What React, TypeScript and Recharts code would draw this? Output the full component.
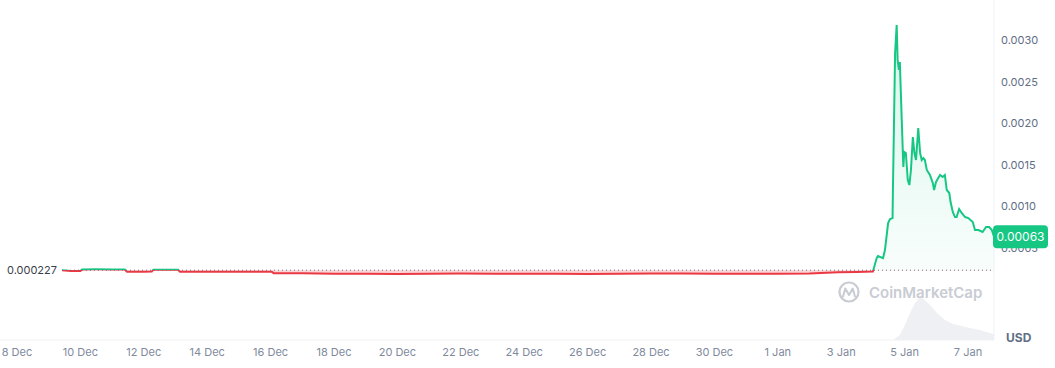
import React from 'react';
import {
  ComposedChart,
  Area,
  XAxis,
  YAxis,
  CartesianGrid,
  ReferenceLine,
  ReferenceDot,
} from 'recharts';

// Days counted from 8 Dec 00:00
const PRICE_DAYS = [
  1.42, 1.7, 2.0, 2.05, 2.5, 3.0, 3.4, 3.47, 4.0, 4.25, 4.3, 4.8, 5.08, 5.14, 6.0, 7.0, 8.04, 8.1,
  9.0, 10.0, 11.0, 12.0, 13.0, 14.0, 15.0, 16.0, 17.0, 18.0, 19.0, 20.0, 21.0, 22.0, 23.0, 24.0,
  25.0, 25.9, 26.5, 27.0, 27.12, 27.16, 27.32, 27.38, 27.48, 27.54, 27.62, 27.63, 27.7, 27.75,
  27.78, 27.82, 27.85, 27.91, 27.96, 27.99, 28.04, 28.1, 28.15, 28.2, 28.26, 28.31, 28.36, 28.43,
  28.49, 28.54, 28.59, 28.64, 28.7, 28.8, 28.89, 28.93, 28.99, 29.06, 29.12, 29.2, 29.27, 29.33,
  29.41, 29.45, 29.52, 29.59, 29.64, 29.72, 29.8, 29.91, 30.01, 30.15, 30.22, 30.33, 30.46, 30.57,
  30.67, 30.75, 30.82,
];
const PRICES = [
  0.000227, 0.000218, 0.000218, 0.000236, 0.000237, 0.000235, 0.000236, 0.000209, 0.000209,
  0.00021, 0.000231, 0.000232, 0.000231, 0.000209, 0.000208, 0.000209, 0.000207, 0.000189,
  0.000189, 0.000185, 0.000183, 0.000181, 0.000184, 0.000186, 0.000185, 0.000184, 0.000183,
  0.000181, 0.000184, 0.000188, 0.000186, 0.000184, 0.000183, 0.000185, 0.000187, 0.000203,
  0.000205, 0.00021, 0.000373, 0.000398, 0.000373, 0.00047, 0.000795, 0.000843, 0.000855,
  0.001157, 0.002843, 0.003181, 0.002759, 0.002639, 0.002735, 0.002036, 0.00147, 0.001651,
  0.001639, 0.001313, 0.001253, 0.001434, 0.001831, 0.001639, 0.001554, 0.00194, 0.001639,
  0.001554, 0.001578, 0.001554, 0.001434, 0.001373, 0.001277, 0.001193, 0.001289, 0.001337,
  0.001373, 0.001349, 0.001373, 0.001193, 0.001157, 0.001048, 0.000928, 0.000867, 0.000867,
  0.000964, 0.000916, 0.000867, 0.000855, 0.000807, 0.000711, 0.000711, 0.000687, 0.000747,
  0.000747, 0.000711, 0.00063,
];

const VOLUME_DAYS = [1.42, 27.2, 27.63, 27.85, 28.01, 28.17, 28.33, 28.49, 28.64, 28.8, 29.02, 29.27, 29.53, 29.91, 30.38, 30.79, 30.82];
const VOLUMES = [0, 0, 0, 5, 15, 27, 37, 43, 40, 35, 27, 20, 16, 13, 10, 6, 6];

const X_TICKS = [0, 2, 4, 6, 8, 10, 12, 14, 16, 18, 20, 22, 24, 26, 28, 30];
const X_LABELS = [
  '8 Dec', '10 Dec', '12 Dec', '14 Dec', '16 Dec', '18 Dec', '20 Dec', '22 Dec',
  '24 Dec', '26 Dec', '28 Dec', '30 Dec', '1 Jan', '3 Jan', '5 Jan', '7 Jan',
];
const GRID_VALUES = [0, 0.0005, 0.001, 0.0015, 0.002, 0.0025, 0.003];
const BASE_PRICE = 0.000227;
const LAST_PRICE = 0.00063;
const Y_TICKS = [0, 0.0005, 0.001, 0.0015, 0.002, 0.0025, 0.003, LAST_PRICE];

const X_DOMAIN: [number, number] = [-0.536, 30.82];
const Y_DOMAIN: [number, number] = [-0.000614, 0.003482];

const GREEN = '#16c784';
const RED = '#ea3943';
const FONT = 'Inter, "Noto Sans", sans-serif';

const priceData = PRICE_DAYS.map((d, i) => ({ d, v: PRICES[i] }));
const volumeData = VOLUME_DAYS.map((d, i) => ({ d, vol: VOLUMES[i] }));

const maxP = Math.max(...PRICES);
const minP = Math.min(...PRICES);
const splitOffset = (maxP - BASE_PRICE) / (maxP - minP);

const YTick = (props: any) => {
  const { x, y, payload } = props;
  const v = payload.value;
  if (v === 0) return null;
  if (Math.abs(v - LAST_PRICE) < 1e-9) {
    return (
      <g>
        <rect x={x - 9} y={y - 11.5} width={55} height={23} rx={4} fill={GREEN} />
        <text x={x + 18.5} y={y + 4} textAnchor="middle" fill="#ffffff" fontSize={12} fontFamily={FONT}>
          {LAST_PRICE.toFixed(5)}
        </text>
      </g>
    );
  }
  return (
    <text x={x - 1} y={y + 4} textAnchor="start" fill="#616e85" fontSize={11} fontFamily={FONT}>
      {v.toFixed(4)}
    </text>
  );
};

export default function App() {
  return (
    <div style={{ position: 'absolute', left: 0, top: 0, width: 1055, height: 368, background: '#fff' }}>
      <ComposedChart width={1055} height={368} margin={{ top: 0, right: 0, bottom: 0, left: 0 }}>
        <defs>
          <linearGradient id="strokeGrad" x1="0" y1="0" x2="0" y2="1">
            <stop offset={0} stopColor={GREEN} />
            <stop offset={splitOffset} stopColor={GREEN} />
            <stop offset={splitOffset} stopColor={RED} />
            <stop offset={1} stopColor={RED} />
          </linearGradient>
          <linearGradient id="fillGrad" x1="0" y1="0" x2="0" y2="1">
            <stop offset={0} stopColor={GREEN} stopOpacity={0.16} />
            <stop offset={splitOffset} stopColor={GREEN} stopOpacity={0.03} />
            <stop offset={splitOffset} stopColor={RED} stopOpacity={0.22} />
            <stop offset={1} stopColor={RED} stopOpacity={0.22} />
          </linearGradient>
        </defs>
        <CartesianGrid vertical={false} stroke="#eff2f5" horizontalValues={GRID_VALUES} />
        <XAxis
          dataKey="d"
          type="number"
          domain={X_DOMAIN}
          allowDataOverflow
          ticks={X_TICKS}
          interval={0}
          tickFormatter={(v: number, i: number) => X_LABELS[i]}
          tickLine={false}
          axisLine={{ stroke: '#eff2f5' }}
          tick={{ fill: '#808a9d', fontSize: 11, fontFamily: FONT }}
          height={28}
        />
        <YAxis
          yAxisId="price"
          orientation="right"
          type="number"
          domain={Y_DOMAIN}
          allowDataOverflow
          ticks={Y_TICKS}
          interval={0}
          width={61}
          tickLine={false}
          axisLine={{ stroke: '#eff2f5' }}
          tick={<YTick />}
        />
        <YAxis yAxisId="vol" hide type="number" domain={[0, 340]} allowDataOverflow />
        <Area
          yAxisId="vol"
          data={volumeData}
          dataKey="vol"
          type="linear"
          stroke="none"
          fill="#eef0f3"
          fillOpacity={1}
          isAnimationActive={false}
          dot={false}
          activeDot={false}
        />
        <ReferenceLine
          yAxisId="price"
          segment={[
            { x: PRICE_DAYS[0], y: BASE_PRICE },
            { x: X_DOMAIN[1], y: BASE_PRICE },
          ]}
          stroke="#6b7280"
          strokeDasharray="1 3"
          strokeWidth={1}
        />
        <Area
          yAxisId="price"
          data={priceData}
          dataKey="v"
          type="linear"
          baseValue={BASE_PRICE}
          stroke="url(#strokeGrad)"
          strokeWidth={2}
          fill="url(#fillGrad)"
          fillOpacity={1}
          isAnimationActive={false}
          dot={false}
          activeDot={false}
        />
        <ReferenceDot
          yAxisId="price"
          x={PRICE_DAYS[0]}
          y={BASE_PRICE}
          r={0}
          stroke="none"
          label={{ value: BASE_PRICE.toFixed(6), position: 'left', offset: 5, fill: '#3a3f4b', fontSize: 11, fontFamily: FONT }}
        />
      </ComposedChart>
      <svg
        width={1055}
        height={368}
        style={{ position: 'absolute', left: 0, top: 0, pointerEvents: 'none' }}
      >
        <g>
          <circle cx={849} cy={292} r={9.5} fill="none" stroke="#c8ccd3" strokeWidth={2.2} />
          <path d="M843 296.5 L845.3 288.5 L849 295 L852.7 288.5 L855 296.5" fill="none" stroke="#c8ccd3" strokeWidth={2} strokeLinejoin="round" strokeLinecap="round" />
          <text x={869} y={297.5} fill="#c8ccd3" fontSize={15} fontWeight={600} fontFamily={FONT}>
            CoinMarketCap
          </text>
        </g>
        <text x={1006} y={342} fill="#616e85" fontSize={12} fontWeight={700} fontFamily={FONT}>
          USD
        </text>
      </svg>
    </div>
  );
}
